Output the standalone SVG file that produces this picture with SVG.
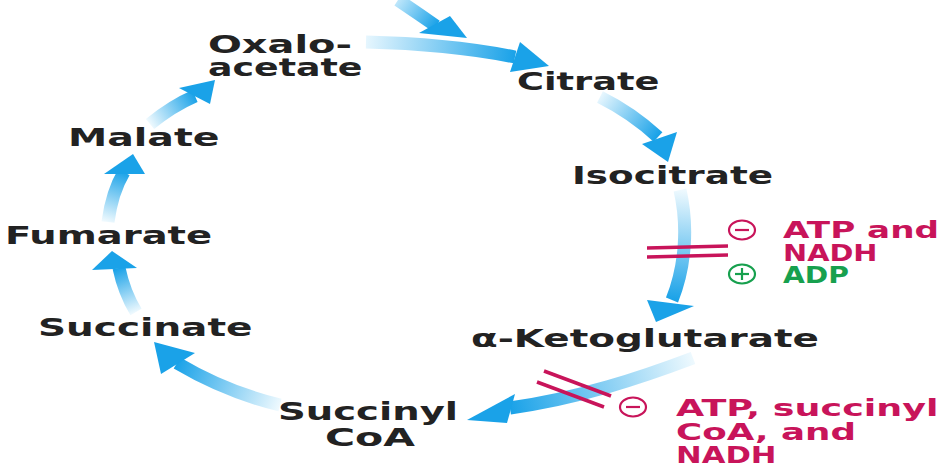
<svg xmlns="http://www.w3.org/2000/svg" width="946" height="468" viewBox="0 0 946 468">
<style>
.lbl{font-family:"DejaVu Sans","Liberation Sans",sans-serif;font-weight:bold;font-size:24px;fill:#222}
.red{font-family:"DejaVu Sans","Liberation Sans",sans-serif;font-weight:bold;font-size:23px;fill:#c8145a}
.grn{font-family:"DejaVu Sans","Liberation Sans",sans-serif;font-weight:bold;font-size:23px;fill:#17a04e}
.body{fill:none;stroke-width:13;stroke-linecap:butt}
.head{fill:#1aa2e8}
.bar{stroke:#c8145a;stroke-width:3.5;fill:none}
.sym{fill:none;stroke-width:2.2}
</style>
<defs>
<linearGradient id="g0" gradientUnits="userSpaceOnUse" x1="398" y1="0" x2="436" y2="26"><stop offset="0" stop-color="#bfe7fb"/><stop offset="1" stop-color="#1aa2e8"/></linearGradient>
<linearGradient id="g1" gradientUnits="userSpaceOnUse" x1="366" y1="42" x2="515" y2="57"><stop offset="0" stop-color="#e6f6fe"/><stop offset="1" stop-color="#1aa2e8"/></linearGradient>
<linearGradient id="g2" gradientUnits="userSpaceOnUse" x1="600" y1="97" x2="656" y2="138"><stop offset="0" stop-color="#e6f6fe"/><stop offset="1" stop-color="#1aa2e8"/></linearGradient>
<linearGradient id="g3" gradientUnits="userSpaceOnUse" x1="680" y1="190" x2="672" y2="300"><stop offset="0" stop-color="#eef9fe"/><stop offset="1" stop-color="#1aa2e8"/></linearGradient>
<linearGradient id="g4" gradientUnits="userSpaceOnUse" x1="693" y1="358" x2="510" y2="408"><stop offset="0" stop-color="#eef9fe"/><stop offset="1" stop-color="#1aa2e8"/></linearGradient>
<linearGradient id="g5" gradientUnits="userSpaceOnUse" x1="280" y1="405" x2="177" y2="363"><stop offset="0" stop-color="#eef9fe"/><stop offset="1" stop-color="#1aa2e8"/></linearGradient>
<linearGradient id="g6" gradientUnits="userSpaceOnUse" x1="136" y1="312" x2="119" y2="268"><stop offset="0" stop-color="#eef9fe"/><stop offset="1" stop-color="#1aa2e8"/></linearGradient>
<linearGradient id="g7" gradientUnits="userSpaceOnUse" x1="108" y1="222" x2="124" y2="172"><stop offset="0" stop-color="#eef9fe"/><stop offset="1" stop-color="#1aa2e8"/></linearGradient>
<linearGradient id="g8" gradientUnits="userSpaceOnUse" x1="150" y1="124" x2="195" y2="96"><stop offset="0" stop-color="#eef9fe"/><stop offset="1" stop-color="#1aa2e8"/></linearGradient>
</defs>
<g id="connectors">
<g id="arrow-entry"><path class="body" stroke="url(#g0)" d="M398,0 Q416,12 436,26"/><polygon class="head" points="419,33 450,16 467,38"/></g>
<g id="arrow-oxaloacetate-citrate"><path class="body" stroke="url(#g1)" d="M366,42 Q450,44 515,57"/><polygon class="head" points="510,72 520,42 549,66"/></g>
<g id="arrow-citrate-isocitrate"><path class="body" stroke="url(#g2)" d="M600,97 Q632,113 658,137"/><polygon class="head" points="642,144 677,132 668,162"/></g>
<g id="arrow-isocitrate-ketoglutarate"><path class="body" stroke="url(#g3)" d="M680,190 C688,225 686,265 672,300"/><polygon class="head" points="647,300 694,306 656,322"/></g>
<g id="arrow-ketoglutarate-succinylcoa"><path class="body" stroke="url(#g4)" d="M693,358 C640,378 580,398 510,408"/><polygon class="head" points="515,394 507,423 467,420"/></g>
<g id="arrow-succinylcoa-succinate"><path class="body" stroke="url(#g5)" d="M280,405 Q226,392 177,363"/><polygon class="head" points="195,353 161,374 154,342"/></g>
<g id="arrow-succinate-fumarate"><path class="body" stroke="url(#g6)" d="M136,312 Q124,292 119,268"/><polygon class="head" points="92,270 137,268 112,251"/></g>
<g id="arrow-fumarate-malate"><path class="body" stroke="url(#g7)" d="M108,222 Q112,192 124,172"/><polygon class="head" points="104,174 145,174 133,154"/></g>
<g id="arrow-malate-oxaloacetate"><path class="body" stroke="url(#g8)" d="M150,124 Q172,106 195,96"/><polygon class="head" points="179,88 210,104 215,80"/></g>
<g id="block-isocitrate"><line class="bar" x1="647" y1="248" x2="728" y2="246"/><line class="bar" x1="647" y1="257" x2="728" y2="255"/></g>
<g id="block-ketoglutarate"><line class="bar" x1="544" y1="371" x2="611" y2="396"/><line class="bar" x1="537" y1="382" x2="604" y2="407"/></g>
</g>
<g id="node-oxaloacetate"><text class="lbl" transform="translate(208,53) scale(1.5,1)" textLength="96" lengthAdjust="spacingAndGlyphs">Oxalo-</text><text class="lbl" transform="translate(208,76) scale(1.5,1)" textLength="103" lengthAdjust="spacingAndGlyphs">acetate</text></g>
<g id="node-citrate"><text class="lbl" transform="translate(517,90) scale(1.5,1)" textLength="95" lengthAdjust="spacingAndGlyphs">Citrate</text></g>
<g id="node-isocitrate"><text class="lbl" transform="translate(572,184) scale(1.5,1)" textLength="134" lengthAdjust="spacingAndGlyphs">Isocitrate</text></g>
<g id="node-ketoglutarate"><text class="lbl" transform="translate(471,347) scale(1.5,1)" textLength="232" lengthAdjust="spacingAndGlyphs">α-Ketoglutarate</text></g>
<g id="node-succinylcoa"><text class="lbl" transform="translate(278,420) scale(1.5,1)" textLength="120" lengthAdjust="spacingAndGlyphs">Succinyl</text><text class="lbl" transform="translate(325,446) scale(1.5,1)" textLength="60" lengthAdjust="spacingAndGlyphs">CoA</text></g>
<g id="node-succinate"><text class="lbl" transform="translate(38,336) scale(1.5,1)" textLength="143" lengthAdjust="spacingAndGlyphs">Succinate</text></g>
<g id="node-fumarate"><text class="lbl" transform="translate(5,244) scale(1.5,1)" textLength="138" lengthAdjust="spacingAndGlyphs">Fumarate</text></g>
<g id="node-malate"><text class="lbl" transform="translate(68,146) scale(1.5,1)" textLength="101" lengthAdjust="spacingAndGlyphs">Malate</text></g>
<g id="reg-isocitrate">
<ellipse class="sym" stroke="#c8145a" cx="742" cy="230" rx="13" ry="9.5"/><line class="sym" stroke="#c8145a" x1="735" y1="230" x2="749" y2="230"/>
<text class="red" transform="translate(783,238) scale(1.5,1)" textLength="104" lengthAdjust="spacingAndGlyphs">ATP and</text>
<text class="red" transform="translate(783,261) scale(1.5,1)" textLength="63" lengthAdjust="spacingAndGlyphs">NADH</text>
<ellipse class="sym" stroke="#17a04e" cx="742" cy="274" rx="13" ry="9.5"/><line class="sym" stroke="#17a04e" x1="735" y1="274" x2="749" y2="274"/><line class="sym" stroke="#17a04e" x1="742" y1="268" x2="742" y2="280"/>
<text class="grn" transform="translate(783,283) scale(1.5,1)" textLength="44" lengthAdjust="spacingAndGlyphs">ADP</text>
</g>
<g id="reg-ketoglutarate">
<ellipse class="sym" stroke="#c8145a" cx="633" cy="407" rx="13" ry="9.5"/><line class="sym" stroke="#c8145a" x1="626" y1="407" x2="640" y2="407"/>
<text class="red" transform="translate(676,416) scale(1.5,1)" textLength="175" lengthAdjust="spacingAndGlyphs">ATP, succinyl</text>
<text class="red" transform="translate(676,440) scale(1.5,1)" textLength="120" lengthAdjust="spacingAndGlyphs">CoA, and</text>
<text class="red" transform="translate(676,463) scale(1.5,1)" textLength="67" lengthAdjust="spacingAndGlyphs">NADH</text>
</g>
</svg>
